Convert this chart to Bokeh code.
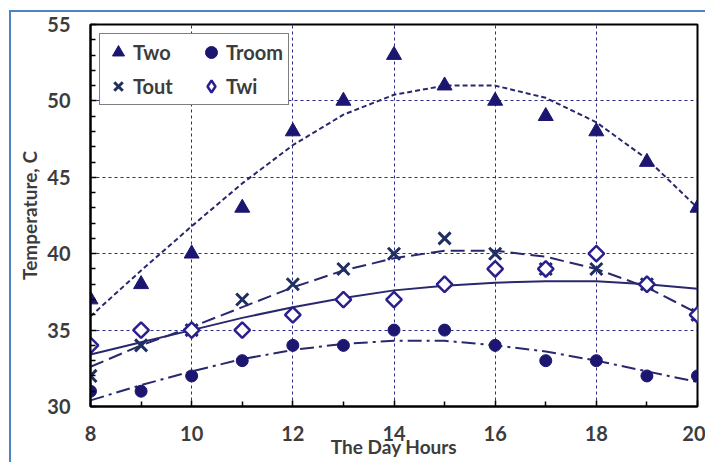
import math
from bokeh.plotting import figure
from bokeh.models import Range1d, FixedTicker, Legend, LegendItem, Title
from bokeh.embed import file_html
from bokeh.resources import INLINE

# ---- data ----
hours = [8, 9, 10, 11, 12, 13, 14, 15, 16, 17, 18, 19, 20]
two = [37, 38, 40, 43, 48, 50, 53, 51, 50, 49, 48, 46, 43]
troom = [31, 31, 32, 33, 34, 34, 35, 35, 34, 33, 33, 32, 32]
tout = [32, 34, 35, 37, 38, 39, 40, 41, 40, 39, 39, 38, 36]
twi = [34, 35, 35, 35, 36, 37, 37, 38, 39, 39, 40, 38, 36]

# trend lines at each hour
two_trend = [35.9, 38.9, 41.8, 44.6, 47.1, 49.1, 50.4, 51.0, 51.0, 50.2, 48.6, 46.2, 43.0]
troom_trend = [30.4, 31.4, 32.3, 33.1, 33.7, 34.1, 34.3, 34.3, 34.0, 33.6, 33.0, 32.3, 31.6]
tout_trend = [32.6, 34.0, 35.2, 36.5, 37.8, 38.9, 39.7, 40.2, 40.2, 39.8, 39.0, 37.8, 36.1]
twi_trend = [33.4, 34.2, 35.0, 35.8, 36.5, 37.1, 37.6, 37.9, 38.1, 38.2, 38.2, 38.0, 37.7]

x_major = [8, 10, 12, 14, 16, 18, 20]
x_minor = [9, 11, 13, 15, 17, 19]
y_major = [30, 35, 40, 45, 50, 55]
y_minor = [v for v in range(30, 56) if v % 5 != 0]
x_grid = [10, 12, 14, 16, 18]
y_grid = [35, 40, 45, 50]

FONT = "Lato"
TXT = "#3c3c3c"
NAVY = "#1c1670"
XCOL = "#1f2f62"
DCOL = "#2a1f8f"
LCOL = "#28286e"
FRAME_BLUE = "#4f83c8"

p = figure(width=705, height=462, output_backend="svg", toolbar_location=None,
           x_range=Range1d(8, 20), y_range=Range1d(30, 55),
           min_border_left=90, min_border_right=8, min_border_top=24, min_border_bottom=56)

p.border_fill_color = "white"
p.background_fill_color = "white"
# thin blue page frame (top and left edges) drawn over the canvas
p.stylesheets = [
    ":host::after { content: ''; position: absolute; left: 9px; top: 10px; right: 0; bottom: 0;"
    f" border-left: 2px solid {FRAME_BLUE}; border-top: 2px solid {FRAME_BLUE};"
    " pointer-events: none; box-sizing: border-box; }"
]

p.outline_line_color = "black"
p.outline_line_width = 2

# axes
for ax in (p.xaxis[0], p.yaxis[0]):
    ax.axis_line_color = "black"
    ax.axis_line_width = 2
    ax.major_tick_line_color = "black"
    ax.minor_tick_line_color = "black"
    ax.major_tick_line_width = 1.5
    ax.minor_tick_line_width = 1.5
    ax.major_tick_in = 6
    ax.major_tick_out = 0
    ax.minor_tick_in = 5
    ax.minor_tick_out = 0
    ax.major_label_text_font = FONT
    ax.major_label_text_font_style = "bold"
    ax.major_label_text_font_size = "20px"
    ax.major_label_text_color = TXT

p.xaxis[0].ticker = FixedTicker(ticks=x_major, minor_ticks=x_minor)
p.yaxis[0].ticker = FixedTicker(ticks=y_major, minor_ticks=y_minor)
p.xaxis[0].major_label_standoff = 19
p.yaxis[0].major_label_standoff = 20

p.xaxis[0].axis_label = "The Day Hours"
p.xaxis[0].axis_label_standoff = -9
p.xaxis[0].axis_label_text_font = FONT
p.xaxis[0].axis_label_text_font_style = "bold"
p.xaxis[0].axis_label_text_font_size = "19px"
p.xaxis[0].axis_label_text_color = TXT

ytitle = Title(text="Temperature, C", align="center", offset=19, standoff=8,
               text_font=FONT, text_font_style="bold", text_font_size="19px", text_color=TXT)
p.add_layout(ytitle, "left")

# grid
p.xgrid[0].ticker = FixedTicker(ticks=x_grid)
p.ygrid[0].ticker = FixedTicker(ticks=y_grid)
for g in (p.xgrid[0], p.ygrid[0]):
    g.grid_line_color = "#2a2a88"
    g.grid_line_dash = "3 3"
    g.grid_line_width = 1

# trend lines
p.line(hours, two_trend, line_color=LCOL, line_width=2, line_dash="5 3")
p.line(hours, troom_trend, line_color=LCOL, line_width=2, line_dash="14 5 3 5")
p.line(hours, tout_trend, line_color=LCOL, line_width=2, line_dash="14 6")
p.line(hours, twi_trend, line_color=LCOL, line_width=2)

# markers
r_two = p.scatter(hours, two, marker="triangle", size=15, fill_color=NAVY, line_color=NAVY)
r_troom = p.scatter(hours, troom, marker="circle", size=12, fill_color=NAVY, line_color=NAVY)
r_tout = p.scatter(hours, tout, marker="x", size=17, line_color=XCOL, line_width=3)
r_twi = p.scatter(hours, twi, marker="square", angle=math.pi / 4, size=11,
                  fill_color="white", line_color=DCOL, line_width=2.5)
# legend swatch for the diamond series (legend ignores marker angle); not drawn in the plot
nan = float("nan")
r_twi_key = p.scatter(x=[nan], y=[nan], marker="diamond", size=16,
                      fill_color="white", line_color=DCOL, line_width=2.5)

legend = Legend(items=[
    LegendItem(label="Two", renderers=[r_two]),
    LegendItem(label="Tout", renderers=[r_tout]),
    LegendItem(label="Troom", renderers=[r_troom]),
    LegendItem(label="Twi", renderers=[r_twi_key]),
], location="top_left", ncols=2)
legend.margin = 9
legend.padding = 3
legend.spacing = 4
legend.glyph_width = 30
legend.glyph_height = 30
legend.label_standoff = 0
legend.label_width = 59
legend.label_height = 30
legend.label_text_font = FONT
legend.label_text_font_style = "bold"
legend.label_text_font_size = "20px"
legend.label_text_color = TXT
legend.border_line_color = "black"
legend.border_line_width = 1.5
legend.background_fill_color = "white"
legend.background_fill_alpha = 1
p.add_layout(legend)

open("out.html", "w").write(file_html(p, INLINE))
